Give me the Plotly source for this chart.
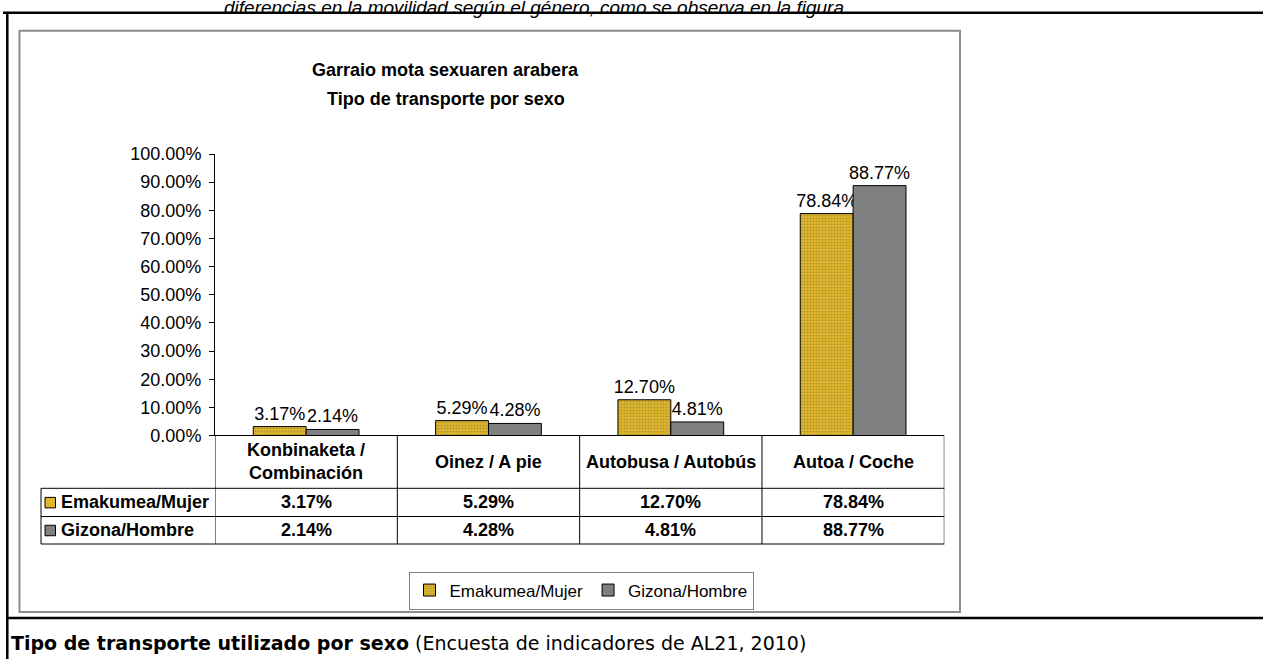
import plotly.graph_objects as go

# ---------------- data ----------------
cat_keys = ["Konbinaketa", "Oinez", "Autobusa", "Autoa"]
cat_labels = ["Konbinaketa /<br>Combinación", "Oinez / A pie", "Autobusa / Autobús", "Autoa / Coche"]
series_names = ["Emakumea/Mujer", "Gizona/Hombre"]
mujer = [3.17, 5.29, 12.70, 78.84]
hombre = [2.14, 4.28, 4.81, 88.77]
y_tick_values = [0, 10, 20, 30, 40, 50, 60, 70, 80, 90, 100]
y_tick_labels = ["%.2f%%" % v for v in y_tick_values]
title_lines = ["Garraio mota sexuaren arabera", "Tipo de transporte por sexo"]
top_text = "diferencias en la movilidad según el género, como se observa en la figura."
caption_bold = "Tipo de transporte utilizado por sexo"
caption_rest = " (Encuesta de indicadores de AL21, 2010)"

# ---------------- layout helpers ----------------
W, H = 1263, 659
def px(x):
    return x / W
def py(y):
    return 1 - y / H

ARIAL = "Liberation Sans, Arial, sans-serif"
VERDANA = "DejaVu Sans, Verdana, sans-serif"
FS = 18
MUJER_BG = "#E0B82A"
MUJER_FG = "#857338"
HOMBRE = "#808080"

fig = go.Figure()
fig.add_trace(go.Bar(
    name=series_names[0], x=cat_keys, y=mujer,
    marker=dict(color=MUJER_BG, line=dict(color="black", width=1),
                pattern=dict(shape=".", bgcolor=MUJER_BG, fgcolor=MUJER_FG,
                             size=3, solidity=0.4, fillmode="overlay")),
    texttemplate="%{y:.2f}%", textposition="outside", cliponaxis=False,
    constraintext="none", textfont=dict(family=ARIAL, size=FS, color="black"),
))
fig.add_trace(go.Bar(
    name=series_names[1], x=cat_keys, y=hombre,
    marker=dict(color=HOMBRE, line=dict(color="black", width=1)),
    texttemplate="%{y:.2f}%", textposition="outside", cliponaxis=False,
    constraintext="none", textfont=dict(family=ARIAL, size=FS, color="black"),
))

shapes = []
annots = []

# outer document frame (black)
blk = dict(color="black", width=2.5)
shapes.append(dict(type="line", xref="paper", yref="paper", x0=px(3), x1=1, y0=py(12.7), y1=py(12.7), line=blk))
shapes.append(dict(type="line", xref="paper", yref="paper", x0=px(7.3), x1=px(7.3), y0=py(12.7), y1=0, line=blk))
shapes.append(dict(type="line", xref="paper", yref="paper", x0=px(7.3), x1=1, y0=py(618), y1=py(618), line=blk))
# chart area box (gray)
shapes.append(dict(type="rect", xref="paper", yref="paper", x0=px(19.5), x1=px(960), y0=py(612), y1=py(30.7),
                   line=dict(color="#8c8c8c", width=2), fillcolor="rgba(0,0,0,0)", layer="below"))

# data table lines
tl = dict(color="black", width=1)
y_axis0, y_r1, y_r2, y_r3 = 435.5, 488.3, 516.5, 544
shapes.append(dict(type="line", xref="x", yref="paper", x0=-0.5, x1=3.5, y0=py(y_axis0), y1=py(y_axis0), line=tl))
for yy in (y_r1, y_r2, y_r3):
    shapes.append(dict(type="line", xref="paper", yref="paper", x0=px(41), x1=px(944.3), y0=py(yy), y1=py(yy), line=tl))
shapes.append(dict(type="line", xref="paper", yref="paper", x0=px(41), x1=px(41), y0=py(y_r1), y1=py(y_r3), line=tl))
for i in range(len(cat_keys) + 1):
    shapes.append(dict(type="line", xref="x", yref="paper", x0=i - 0.5, x1=i - 0.5,
                       y0=py(y_axis0), y1=py(y_r3), line=tl))

# table header + values
tfont = dict(family=ARIAL, size=FS, color="black")
for k, lab, m, h in zip(cat_keys, cat_labels, mujer, hombre):
    annots.append(dict(x=k, xref="x", y=py((y_axis0 + y_r1) / 2), yref="paper", text="<b>%s</b>" % lab,
                       showarrow=False, font=tfont, xanchor="center", yanchor="middle"))
    annots.append(dict(x=k, xref="x", y=py((y_r1 + y_r2) / 2), yref="paper", text="<b>%.2f%%</b>" % m,
                       showarrow=False, font=tfont, xanchor="center", yanchor="middle"))
    annots.append(dict(x=k, xref="x", y=py((y_r2 + y_r3) / 2), yref="paper", text="<b>%.2f%%</b>" % h,
                       showarrow=False, font=tfont, xanchor="center", yanchor="middle"))

# row headers with keys
for (yt, yb), name, col in (((y_r1, y_r2), series_names[0], MUJER_BG), ((y_r2, y_r3), series_names[1], HOMBRE)):
    yc = (yt + yb) / 2
    shapes.append(dict(type="rect", xref="paper", yref="paper", x0=px(45), x1=px(55.5), y0=py(yc + 5.5), y1=py(yc - 5),
                       fillcolor=col, line=dict(color="black", width=1)))
    annots.append(dict(x=px(59), xref="paper", y=py(yc), yref="paper", text="<b>%s</b>" % name, showarrow=False,
                       font=tfont, xanchor="left", yanchor="middle"))

# chart title
for yy, line in zip((70, 99), title_lines):
    annots.append(dict(x=px(446), xref="paper", y=py(yy), yref="paper", text="<b>%s</b>" % line, showarrow=False,
                       font=tfont, xanchor="center", yanchor="middle"))

# document text outside the chart
annots.append(dict(x=px(222), xref="paper", y=py(20), yref="paper", text="<i>%s</i>" % top_text, showarrow=False,
                   font=dict(family=ARIAL, size=19, color="black"), xanchor="left", yanchor="bottom"))
annots.append(dict(x=px(9), xref="paper", y=py(643), yref="paper", text="<b>%s</b>%s" % (caption_bold, caption_rest),
                   showarrow=False, font=dict(family=VERDANA, size=19, color="black"), xanchor="left", yanchor="middle"))

fig.update_layout(
    width=W, height=H,
    margin=dict(l=0, r=0, t=0, b=0, autoexpand=False),
    paper_bgcolor="white", plot_bgcolor="white",
    barmode="group", bargap=0.42, bargroupgap=0,
    showlegend=True,
    legend=dict(orientation="h", x=px(581), xanchor="center", y=py(590.5), yanchor="middle",
                bordercolor="#808080", borderwidth=1, bgcolor="white",
                font=dict(family=ARIAL, size=17, color="black"), itemwidth=30, traceorder="normal"),
    xaxis=dict(domain=[px(215), px(944.3)], range=[-0.5, 3.5], type="category", showticklabels=False,
               showline=False, showgrid=False, zeroline=False, ticks="", automargin=False),
    yaxis=dict(domain=[py(y_axis0), py(154)], range=[0, 100], tickvals=y_tick_values, ticktext=y_tick_labels,
               ticks="outside", ticklen=5, tickcolor="black", showline=True, linecolor="black",
               linewidth=1, showgrid=False, zeroline=False, ticklabelstandoff=4, automargin=False,
               tickfont=dict(family=ARIAL, size=FS, color="black")),
    shapes=shapes, annotations=annots,
)

fig.write_html("out.html", config={"displayModeBar": False},
               post_script="document.body.style.margin='0';document.body.style.overflow='hidden';")
